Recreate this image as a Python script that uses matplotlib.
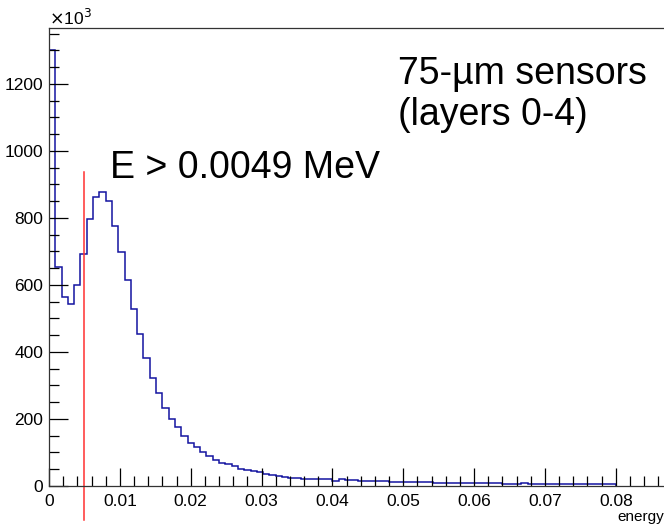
import matplotlib
matplotlib.use('Agg')
import matplotlib.pyplot as plt
from matplotlib import ticker
import numpy as np

plt.rcParams['font.family'] = ['Liberation Sans', 'DejaVu Sans']

# energy histogram, 90 bins from 0 to 0.08, counts in units of 1e3
bin_lo = 0.0
bin_hi = 0.08
n_bins = 90
counts = [1300, 655, 565, 543, 599, 692, 796, 864, 877, 850,
          776, 699, 616, 528, 453, 381, 323, 278, 234, 200,
          177, 150, 129, 115, 101, 90, 79, 70, 65, 59,
          52, 47, 44, 41, 37, 34, 30, 28, 25, 23,
          22, 20, 20, 20, 20, 15, 20, 17, 17, 14,
          14, 14, 14, 14, 11, 11, 11, 11, 11, 11,
          11, 9, 9, 9, 9, 9, 9, 9, 9, 9,
          9, 9, 6, 6, 6, 9, 6, 6, 6, 6,
          6, 6, 6, 6, 6, 6, 6, 6, 6, 6]
cut_value = 0.0049
cut_line_y = [-100, 937]

edges = np.linspace(bin_lo, bin_hi, n_bins + 1)

fig = plt.figure(figsize=(6.64, 5.26), dpi=100)
ax = fig.add_axes([49 / 664, 40 / 526, 1 - 49 / 664, (486 - 27.7) / 526])

ax.stairs(counts, edges, color='#1414a0', linewidth=1.1, baseline=0)
ax.plot([cut_value, cut_value], cut_line_y, color='#ff3030', linewidth=1.1, clip_on=False)

ax.set_xlim(0, 0.0868)
ax.set_ylim(0, 1368)

ax.xaxis.set_major_locator(ticker.MultipleLocator(0.01))
ax.xaxis.set_minor_locator(ticker.MultipleLocator(0.002))
ax.yaxis.set_major_locator(ticker.MultipleLocator(200))
ax.yaxis.set_minor_locator(ticker.MultipleLocator(50))
ax.xaxis.set_major_formatter(ticker.FuncFormatter(lambda x, pos: '0' if abs(x) < 1e-9 else '%.2f' % x))

ax.tick_params(axis='both', which='both', direction='in', labelsize=12.5, width=0.9)
ax.tick_params(axis='x', which='major', length=13, pad=6)
ax.tick_params(axis='x', which='minor', length=7)
ax.tick_params(axis='y', which='major', length=13.5, pad=4)
ax.tick_params(axis='y', which='minor', length=7)
ax.spines['right'].set_visible(False)
for s in ['left', 'bottom', 'top']:
    ax.spines[s].set_linewidth(0.9)
    ax.spines[s].set_color('#333333')

fig.text(49 / 664, 1 - 25 / 526, r'$\times$10$^3$', fontsize=12.5, ha='left', va='baseline')
ax.set_xlabel('energy', fontsize=11, ha='right')
ax.xaxis.set_label_coords(1.0, -0.052)

fig.text(398 / 664, 1 - 84 / 526, '75-µm sensors', fontsize=27, ha='left', va='baseline')
fig.text(398 / 664, 1 - 125 / 526, '(layers 0-4)', fontsize=27, ha='left', va='baseline')
fig.text(110 / 664, 1 - 178 / 526, 'E > 0.0049 MeV', fontsize=27, ha='left', va='baseline')

plt.savefig('out.png', dpi=100)
